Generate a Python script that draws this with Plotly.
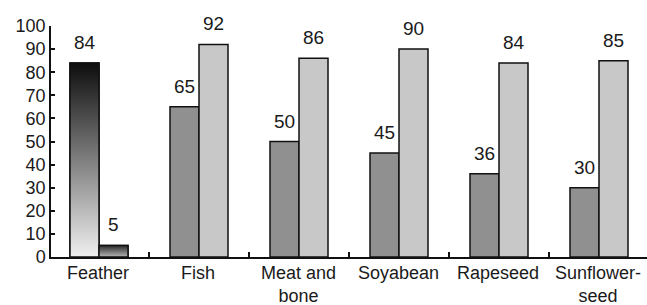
import plotly.graph_objects as go

categories = ["Feather", "Fish", "Meat and<br>bone", "Soyabean", "Rapeseed", "Sunflower-<br>seed"]
series_a = [84, 65, 50, 45, 36, 30]
series_b = [5, 92, 86, 90, 84, 85]
y_ticks = [0, 10, 20, 30, 40, 50, 60, 70, 80, 90, 100]

BW = 0.29  # width of one bar in category units
FONT = "Liberation Sans, Arial, Helvetica, sans-serif"
TXT = "#1a1a1a"

xs = list(range(len(categories)))
fill_a = ["rgba(0,0,0,0)"] + ["#909090"] * (len(categories) - 1)
fill_b = ["rgba(0,0,0,0)"] + ["#c8c8c8"] * (len(categories) - 1)

fig = go.Figure()
fig.add_trace(go.Bar(x=xs, y=series_a, offset=-BW, width=BW,
                     marker=dict(color=fill_a, line=dict(color="#111", width=1.5)),
                     showlegend=False, hoverinfo="y"))
fig.add_trace(go.Bar(x=xs, y=series_b, offset=0, width=BW,
                     marker=dict(color=fill_b, line=dict(color="#111", width=1.5)),
                     showlegend=False, hoverinfo="y"))

# gradient-filled Feather bars
def grad_bar(x0, x1, v, scale):
    fig.add_trace(go.Scatter(x=[x0, x1, x1, x0, x0], y=[0, 0, v, v, 0], mode="lines",
                             fill="toself",
                             fillgradient=dict(type="vertical", colorscale=scale),
                             line=dict(color="#111", width=1.5),
                             showlegend=False, hoverinfo="skip"))

grad_bar(xs[0] - BW, xs[0], series_a[0], [[0, "#f0f0f0"], [1, "#0d0d0d"]])
grad_bar(xs[0], xs[0] + BW, series_b[0], [[0, "#b8b8b8"], [1, "#2a2a2a"]])

annotations = []
for i, (a, b) in enumerate(zip(series_a, series_b)):
    annotations.append(dict(x=i - BW / 2, y=a, text=str(a), showarrow=False,
                            yanchor="bottom", yshift=8, font=dict(size=19, color=TXT, family=FONT)))
    annotations.append(dict(x=i + BW / 2, y=b, text=str(b), showarrow=False,
                            yanchor="bottom", yshift=8, font=dict(size=19, color=TXT, family=FONT)))
# category labels under the axis
for i, c in enumerate(categories):
    annotations.append(dict(x=i - 0.01, y=0, yref="paper", text=c, showarrow=False,
                            yanchor="top", yshift=-4, xanchor="center",
                            font=dict(size=18, color=TXT, family=FONT)))

boundaries = [i + 0.5 for i in xs[:-1]]

fig.update_layout(
    width=647, height=305,
    margin=dict(l=51, r=0, t=26, b=48),
    paper_bgcolor="white", plot_bgcolor="white",
    font=dict(family=FONT, color=TXT),
    annotations=annotations,
    xaxis=dict(range=[-0.48, 5.48], tickvals=boundaries, ticktext=[""] * len(boundaries),
               ticks="inside", ticklen=5, tickwidth=1.5, tickcolor="#111",
               showgrid=False, zeroline=False, automargin=False,
               showline=True, linecolor="#111", linewidth=1.5),
    yaxis=dict(range=[0, 100], tickvals=y_ticks, ticks="inside", ticklen=4,
               tickwidth=1.5, tickcolor="#111", showgrid=False, zeroline=False,
               automargin=False,
               showline=True, linecolor="#111", linewidth=1.5,
               tickfont=dict(size=18, color=TXT, family=FONT)),
)

fig.write_html("out.html", config={"displayModeBar": False},
               post_script="document.body.style.margin='0';document.body.style.padding='0';")
